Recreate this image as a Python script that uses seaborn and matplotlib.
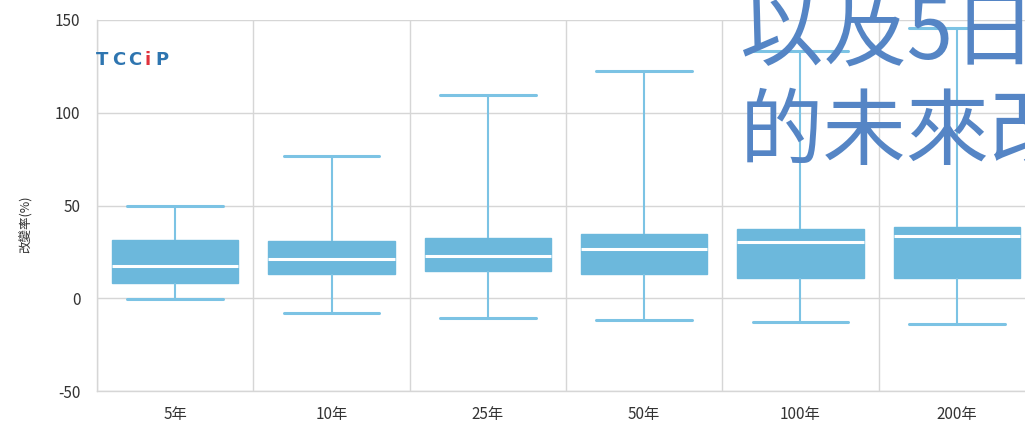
import numpy as np
import pandas as pd
from matplotlib import pyplot as plt
from matplotlib.ticker import FixedLocator
import seaborn as sns

# values (%), per return period
periods = ['5年', '10年', '25年', '50年', '100年', '200年']
lower = [-0.5, -7.7, -10.8, -11.9, -12.8, -13.9]
q1 = [8.3, 13.3, 14.6, 13.1, 10.9, 10.9]
median = [17.4, 21.4, 22.6, 26.3, 30.4, 33.4]
q3 = [31.6, 30.7, 32.3, 34.9, 37.6, 38.4]
upper = [49.6, 76.5, 109.4, 122.4, 133.2, 145.6]

yticks = [-50, 0, 50, 100, 150]

# five points per category -> quartiles land exactly on q1/median/q3
rows = []
for i, p in enumerate(periods):
    for v in (lower[i], q1[i], median[i], q3[i], upper[i]):
        rows.append({'period': p, 'value': v})
df = pd.DataFrame(rows)

sns.set_style("white")
plt.rcParams['font.family'] = ['Noto Sans CJK TC', 'DejaVu Sans']

box_c = '#6cb8dc'
line_c = '#7cc3e4'
grid_c = '#d6d6d6'

fig = plt.figure(figsize=(10.25, 4.29), dpi=100)
ax = fig.add_axes([97/1025, 1 - 391/429, 938/1025, 371/429])

sns.boxplot(data=df, x='period', y='value', order=periods, ax=ax,
            whis=(0, 100), width=0.81, showfliers=False,
            color=box_c, saturation=1, linewidth=1,
            boxprops=dict(facecolor=box_c, edgecolor=box_c),
            medianprops=dict(color='white', linewidth=2.2),
            whiskerprops=dict(color=line_c, linewidth=1.5),
            capprops=dict(color=line_c, linewidth=2.2),
            capwidths=0.61)

ax.set_xlim(-0.5, len(periods) - 0.5)
ax.set_ylim(-50, 150)
ax.set_yticks(yticks)
ax.set_yticklabels([str(t) for t in yticks])
ax.xaxis.set_minor_locator(FixedLocator(np.arange(-0.5, len(periods), 1)))
ax.grid(axis='x', which='minor', color=grid_c, linewidth=1)
ax.grid(axis='x', which='major', visible=False)
ax.grid(axis='y', which='major', color=grid_c, linewidth=1)
ax.set_axisbelow(True)
ax.tick_params(axis='both', which='both', length=0, colors='#333333', labelsize=11)
ax.tick_params(axis='x', pad=11)
ax.tick_params(axis='y', pad=12)
for s in ['top', 'right']:
    ax.spines[s].set_visible(False)
for s in ['left', 'bottom']:
    ax.spines[s].set_color(grid_c)
    ax.spines[s].set_linewidth(1)

ax.set_xlabel('')
ax.set_ylabel('改變率(%)', fontsize=9, color='#333333')
ax.yaxis.set_label_coords(-0.07, 0.45)

# TCCIP logo, one letter at a time
logo_y = 1 - 60/429
for ch, px, col in [('T', 96, '#2e75b0'), ('C', 112, '#2e75b0'), ('C', 128, '#2e75b0'),
                    ('i', 145, '#e0323c'), ('P', 155, '#2e75b0')]:
    fig.text(px/1025, logo_y, ch, color=col, fontsize=13, fontweight='bold',
             family='DejaVu Sans', va='center')

# overlaid slide title (cut at the right edge, as in the reference)
title_c = '#5585c5'
fig.text(740/1025, 1 - 60/429, '以及5日最大', color=title_c, fontsize=60,
         fontweight='light', va='baseline')
fig.text(740/1025, 1 - 158/429, '的未來改變', color=title_c, fontsize=60,
         fontweight='light', va='baseline')

fig.savefig('out.png', dpi=100)
